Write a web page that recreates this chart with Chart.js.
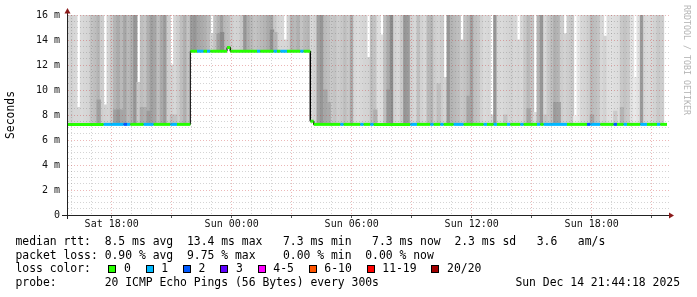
<!DOCTYPE html>
<html>
<head>
<meta charset="utf-8">
<script src="https://cdn.jsdelivr.net/npm/chart.js@4.4.1/dist/chart.umd.min.js"></script>
<style>
  html, body { margin: 0; padding: 0; background: #fff; }
  #wrap { position: relative; width: 697px; height: 297px; overflow: hidden; font-family: "DejaVu Sans Mono", monospace; color: #000; }
  #c { position: absolute; left: 0; top: 0; }
  .legend { position: absolute; left: 15.5px; top: 235px; font-size: 11.4px; line-height: 13.7px; white-space: pre; }
  .it { margin-left: 14.8px; }
  .it.first { margin-left: 17.3px; }
  .box { display: inline-block; width: 6px; height: 6px; border: 1px solid #000; margin-right: 7.7px; vertical-align: -1px; }
  #stamp { position: absolute; right: 17px; top: 276.1px; font-size: 11.4px; line-height: 13.7px; white-space: pre; }
  #mark { position: absolute; left: 691.5px; top: 5px; font-size: 8.3px; line-height: 10px; color: #b4b4b4; white-space: pre; transform: rotate(90deg); transform-origin: 0 0; }
</style>
</head>
<body>
<div id="wrap">
  <canvas id="c" width="697" height="297"></canvas>
  <div class="legend" id="legend"></div>
  <div id="stamp">Sun Dec 14 21:44:18 2025</div>
  <div id="mark">RRDTOOL / TOBI OETIKER</div>
</div>
<script>
/* Smokeping-style RTT graph, 30 h window in 10 minute columns */

// time axis: hours counted from Sat 00:00
const startHour = 15.765;
const endHour = 45.865;
const colHours = 1 / 6;

const xTickHours = [18, 24, 30, 36, 42];
const xTickLabels = ['Sat 18:00', 'Sun 00:00', 'Sun 06:00', 'Sun 12:00', 'Sun 18:00'];
const yTickValues = [0, 2, 4, 6, 8, 10, 12, 14, 16];
const yTickLabels = ['0', '2 m', '4 m', '6 m', '8 m', '10 m', '12 m', '14 m', '16 m'];

// median rtt (ms) per column
const medianMs = [
  7.25,7.25,7.25,7.25,7.25,7.25,7.25,7.25,7.25,7.25, 7.25,7.25,7.25,7.25,7.25,7.25,7.25,7.25,7.25,7.25,
  7.25,7.25,7.25,7.25,7.25,7.25,7.25,7.25,7.25,7.25, 7.25,7.25,7.25,7.25,7.25,7.25,7.25,13.1,13.1,13.1,
  13.1,13.1,13.1,13.1,13.1,13.1,13.1,13.1,13.4,13.1, 13.1,13.1,13.1,13.1,13.1,13.1,13.1,13.1,13.1,13.1,
  13.1,13.1,13.1,13.1,13.1,13.1,13.1,13.1,13.1,13.1, 13.1,13.1,13.1,7.5,7.25,7.25,7.25,7.25,7.25,7.25,
  7.25,7.25,7.25,7.25,7.25,7.25,7.25,7.25,7.25,7.25, 7.25,7.25,7.25,7.25,7.25,7.25,7.25,7.25,7.25,7.25,
  7.25,7.25,7.25,7.25,7.25,7.25,7.25,7.25,7.25,7.25, 7.25,7.25,7.25,7.25,7.25,7.25,7.25,7.25,7.25,7.25,
  7.25,7.25,7.25,7.25,7.25,7.25,7.25,7.25,7.25,7.25, 7.25,7.25,7.25,7.25,7.25,7.25,7.25,7.25,7.25,7.25,
  7.25,7.25,7.25,7.25,7.25,7.25,7.25,7.25,7.25,7.25, 7.25,7.25,7.25,7.25,7.25,7.25,7.25,7.25,7.25,7.25,
  7.25,7.25,7.25,7.25,7.25,7.25,7.25,7.25,7.25,7.25, 7.25,7.25,7.25,7.25,7.25,7.25,7.25,7.25,7.25,7.25
];

// lost pings (of 20) per column
const lostPings = [
  0,0,0,0,0,0,0,0,0,0, 0,1,1,1,1,1,1,2,1,0,
  0,0,0,1,1,1,0,0,0,0, 0,1,1,0,0,0,0,0,0,1,
  1,0,1,0,0,0,0,0,0,0, 0,0,0,0,0,0,0,1,0,0,
  0,0,1,0,1,1,0,0,0,0, 1,0,0,0,0,0,0,0,0,0,
  0,0,1,0,0,0,0,0,1,0, 0,1,0,0,0,0,0,0,0,0,
  0,0,0,1,1,0,0,0,0,1, 0,0,1,0,0,0,1,1,1,0,
  0,0,0,0,0,1,0,0,1,0, 0,0,1,0,0,0,1,0,0,0,
  0,1,0,1,1,1,1,1,1,1, 0,0,0,0,0,0,2,1,1,1,
  0,0,0,0,2,0,0,1,0,0, 0,0,1,1,0,0,0,1,0,0
];

// smoke: top of the ping spread (ms), gray level, darker low band top (0 = none)
const smokeTop = [
  16,16,16,8.6,16,16,16,16,16,16, 16,8.8,16,16,16,16,16,16,16,16,
  16,10.6,16,16,16,16,16,16,16,16, 16,12,16,16,16,16,16,16,16,16,
  16,16,16,14.5,16,16,16,16,16,16, 16,16,16,16,16,16,16,16,16,16,
  16,16,16,16,16,14,16,16,16,16, 16,16,16,16,16,16,16,16,16,16,
  16,16,16,16,16,16,16,16,16,16, 12.6,16,16,16,14.4,16,16,16,16,16,
  16,16,16,16,16,16,16,16,16,16, 16,16,16,11,16,16,16,16,14,16,
  16,16,16,16,16,16,16,8,16,16, 16,16,16,16,16,14,16,16,16,16,
  8.2,16,16,16,16,16,16,16,16,14.5, 16,16,7.9,16,16,16,16,16,16,16,
  16,14.3,16,16,16,16,16,16,16,16, 11,16,16,16,16,16,16,16,16,null
];
const smokeGray = [
  215,210,215,215,218,215,212,195,190,180, 205,210,212,200,180,170,185,165,185,175,
  150,200,190,195,175,160,165,190,170,155, 205,210,215,205,190,175,195,155,150,165,
  170,175,185,210,195,180,160,185,190,205, 212,210,200,150,175,185,195,190,185,180,
  170,165,200,212,215,215,210,180,185,175, 195,185,180,215,210,160,150,185,190,200,
  195,205,200,190,200,170,215,218,215,212, 210,190,195,222,220,190,170,140,210,215,
  200,150,155,210,215,190,210,215,185,180, 205,210,205,212,150,180,185,190,200,195,
  185,160,190,195,210,218,215,215,150,215, 218,215,212,210,215,212,215,200,185,195,
  218,180,150,215,200,190,175,180,205,210, 205,200,235,230,215,212,205,185,190,195,
  215,210,222,225,222,220,200,195,200,225, 232,225,155,215,218,215,210,200,205,null
];
const smokeCore = [
  0,0,0,0,0,0,0,0,0,9.2, 0,0,0,0,8.4,8.4,8.4,0,0,0,
  0,0,8.6,8.6,8.3,0,0,0,0,0, 0,8,8,0,0,0,0,0,0,0,
  0,0,0,0,0,14.5,14.6,0,0,0, 0,0,0,0,0,0,0,0,0,0,
  0,14.8,14.6,0,0,0,0,0,0,0, 0,0,0,0,0,0,0,10,9,0,
  0,0,0,0,0,0,0,0,0,0, 0,0,8.4,0,0,0,10,0,0,0,
  0,0,0,0,0,0,0,0,0,0, 0,10.5,0,0,0,0,0,0,0,0,
  9.5,0,0,0,0,0,0,0,0,0, 0,8,0,0,0,0,0,0,8.5,0,
  0,0,0,8,0,0,9,9,0,0, 0,0,0,0,0,0,0,8,0,0,
  0,0,0,0,8.3,0,8.6,0,0,0, 0,0,0,0,0,0,0,0,0,0
];

// loss colour legend
const lossLabels = ['0', '1', '2', '3', '4-5', '6-10', '11-19', '20/20'];
const lossUpTo   = [0, 1, 2, 3, 5, 10, 19, 20];
const lossColors = ['#26ff00', '#00b8ff', '#0059ff', '#5e00ff', '#ff00ff', '#ff5500', '#ff0000', '#a10000'];

(function () {
  const gray = g => `rgb(${g},${g},${g})`;
  const lossColor = n => lossColors[lossUpTo.findIndex(u => n <= u)];

  // build chart points from the arrays
  const smoke = [], smokeColors = [], core = [], coreColors = [], medianPts = [];
  medianMs.forEach((m, i) => {
    const x0 = startHour + i * colHours;
    const xc = x0 + colHours / 2;
    if (smokeGray[i] != null && smokeTop[i] > m) {
      smoke.push({ x: xc, y: [m, smokeTop[i]] });
      smokeColors.push(gray(smokeGray[i]));
    }
    if (smokeCore[i] > m) {
      core.push({ x: xc, y: [m, smokeCore[i]] });
      coreColors.push(gray(smokeGray[i] - 20));
    }
    medianPts.push({ x: x0, y: m }, { x: x0 + colHours, y: m });
  });

  // legend text below the plot
  const boxes = lossLabels.map((l, k) =>
    `<span class="it${k === 0 ? ' first' : ''}"><span class="box" style="background:${lossColors[k]}"></span>${l}</span>`).join('');
  document.getElementById('legend').innerHTML =
    'median rtt:  8.5 ms avg  13.4 ms max   7.3 ms min   7.3 ms now  2.3 ms sd   3.6   am/s\n' +
    'packet loss: 0.90 % avg  9.75 % max    0.00 % min  0.00 % now\n' +
    'loss color:' + boxes + '\n' +
    'probe:       20 ICMP Echo Pings (56 Bytes) every 300s';

  // axis lines past the plot and the two arrow heads
  const axisArrows = {
    id: 'axisArrows',
    afterDraw(chart) {
      const { ctx, chartArea: a } = chart;
      ctx.save();
      ctx.strokeStyle = '#222';
      ctx.lineWidth = 1;
      ctx.beginPath();
      ctx.moveTo(a.left - 5, a.bottom + 0.5); ctx.lineTo(a.right + 1, a.bottom + 0.5);
      ctx.moveTo(a.left + 0.5, a.bottom + 4); ctx.lineTo(a.left + 0.5, a.top - 2);
      ctx.stroke();
      ctx.fillStyle = '#8b1a1a';
      ctx.beginPath();
      ctx.moveTo(a.left + 0.5, a.top - 7);
      ctx.lineTo(a.left - 2.5, a.top - 1.5);
      ctx.lineTo(a.left + 3.5, a.top - 1.5);
      ctx.fill();
      ctx.beginPath();
      ctx.moveTo(a.right + 5, a.bottom + 0.5);
      ctx.lineTo(a.right, a.bottom - 2.5);
      ctx.lineTo(a.right, a.bottom + 3.5);
      ctx.fill();
      ctx.restore();
    }
  };

  const MAJOR = 'rgba(200,50,50,0.35)';
  const MINOR = 'rgba(100,100,100,0.28)';
  const tickFont = { family: 'DejaVu Sans Mono', size: 10 };

  new Chart(document.getElementById('c'), {
    type: 'bar',
    data: {
      datasets: [
        {
          type: 'line', order: 0, data: medianPts,
          borderWidth: 3, pointRadius: 0, tension: 0, borderCapStyle: 'butt',
          segment: {
            borderColor: c => c.p0.parsed.y !== c.p1.parsed.y ? 'transparent'
              : lossColor(lostPings[Math.floor(c.p0DataIndex / 2)])
          }
        },
        {
          type: 'line', order: 1, data: medianPts,
          borderColor: '#000', borderWidth: 1, pointRadius: 0, tension: 0
        },
        {
          order: 2, data: core, backgroundColor: coreColors,
          grouped: false, barPercentage: 1, categoryPercentage: 1, borderWidth: 0, inflateAmount: 0.5
        },
        {
          order: 3, data: smoke, backgroundColor: smokeColors,
          grouped: false, barPercentage: 1, categoryPercentage: 1, borderWidth: 0, inflateAmount: 0.5
        }
      ]
    },
    options: {
      responsive: false,
      animation: false,
      devicePixelRatio: 1,
      layout: { padding: { top: 15, right: 28, bottom: 0, left: 0 } },
      plugins: { legend: { display: false }, tooltip: { enabled: false } },
      scales: {
        x: {
          type: 'linear',
          min: startHour,
          max: endHour,
          offset: false,
          afterFit: s => { s.height = 82; },
          ticks: {
            stepSize: 1, autoSkip: false, maxRotation: 0, includeBounds: false, padding: 0,
            font: tickFont, color: '#111',
            callback: v => { const k = xTickHours.indexOf(v); return k >= 0 ? xTickLabels[k] : ''; }
          },
          grid: {
            offset: false, z: 1, lineWidth: 1, tickLength: 3,
            color: c => (c.tick && c.tick.value % 3 === 0) ? MAJOR : MINOR,
            tickColor: c => (c.tick && c.tick.value % 3 === 0) ? '#555' : 'transparent'
          },
          border: { color: '#222', dash: [1, 2], z: 1 }
        },
        y: {
          min: 0,
          max: 16,
          afterFit: s => { s.width = 67; },
          ticks: {
            stepSize: 0.5, autoSkip: false, padding: 4,
            font: tickFont, color: '#111',
            callback: v => { const k = yTickValues.indexOf(v); return k >= 0 ? yTickLabels[k] : ''; }
          },
          grid: {
            z: 1, lineWidth: 1, tickLength: 3, tickColor: 'transparent',
            color: c => (c.tick && c.tick.value % 2 === 0) ? MAJOR : MINOR
          },
          border: { color: '#222', dash: [1, 2], z: 1 },
          title: {
            display: true, text: 'Seconds', color: '#000',
            font: { family: 'DejaVu Sans Mono', size: 11.4 },
            padding: { top: 4, bottom: 0 }
          }
        }
      }
    },
    plugins: [axisArrows]
  });
})();
</script>
</body>
</html>
